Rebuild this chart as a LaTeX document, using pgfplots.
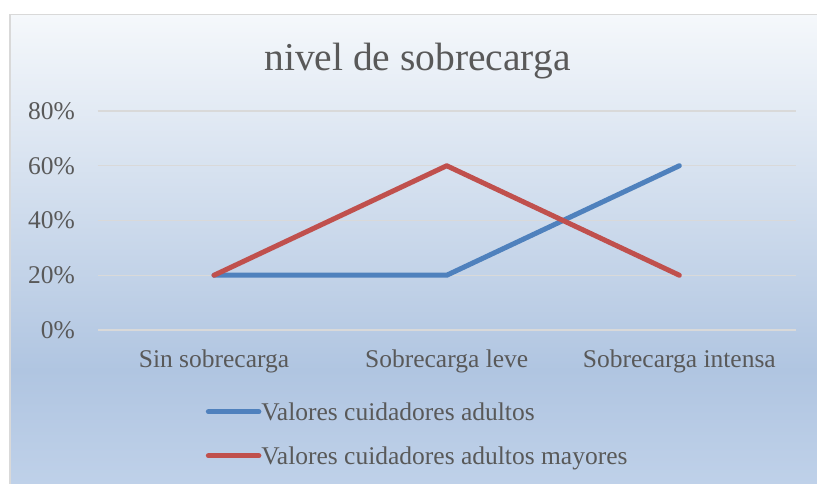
\documentclass[border=0pt]{standalone}
\usepackage{fontspec}
\setmainfont{Liberation Serif}
\usepackage{pgfplots}
\pgfplotsset{compat=1.18}
\definecolor{txt}{HTML}{595959}
\definecolor{gridc}{HTML}{D9D9D9}
\definecolor{serA}{HTML}{4F81BD}
\definecolor{serB}{HTML}{C0504D}
\definecolor{bgtop}{HTML}{F5F8FB}
\definecolor{bgmid}{HTML}{B0C5E1}
\definecolor{bgbot}{HTML}{BFD1E9}

\begin{document}
\begin{tikzpicture}[x=1pt,y=1pt]
\useasboundingbox (0,0) rectangle (817,484);
\fill[white] (0,0) rectangle (817,484);
% chart area with Excel-like gradient
\shade[top color=bgtop, bottom color=bgmid] (10,113.5) rectangle (817,469.5);
\shade[top color=bgmid, bottom color=bgbot] (10,0) rectangle (817,114);
\draw[gridc, line width=1.2pt] (10,0) -- (10,469.5) -- (817,469.5);
\node[txt, anchor=base, inner sep=0pt, font=\fontsize{39.5}{45}\selectfont] at (417.5,413) {nivel de sobrecarga};

\begin{axis}[
  at={(97.7pt,154pt)}, anchor=south west,
  width=698pt, height=219pt, scale only axis,
  xmin=-0.5, xmax=2.5, ymin=0, ymax=0.8,
  xtick={0,1,2},
  xticklabels={Sin sobrecarga, Sobrecarga leve, Sobrecarga intensa},
  ytick={0,0.2,0.4,0.6,0.8},
  yticklabels={0\%,20\%,40\%,60\%,80\%},
  ymajorgrids, grid style={gridc, line width=1.3pt},
  axis line style={draw=none}, major tick length=0pt,
  tick label style={text=txt, font=\fontsize{25.5}{30}\selectfont, inner sep=0pt},
  yticklabel style={anchor=east, xshift=-22.7pt},
  xticklabel style={anchor=base, yshift=-38pt},
  legend cell align=left,
  legend style={draw=none, fill=none, inner sep=0pt, outer sep=0pt,
    at={(0.155,-0.3288)}, anchor=north west,
    font=\fontsize{25.5}{30}\selectfont, text=txt, row sep=20pt,
    nodes={inner sep=0pt, text height=18pt, text depth=6pt},
    /tikz/every even column/.append style={column sep=6pt}},
  legend image code/.code={\draw[#1, line width=5pt, line cap=round] (0pt,2.3pt) -- (50.5pt,2.3pt);},
]
\addplot[serA, line width=5pt, line cap=round, line join=round]
  coordinates {(0,0.2) (1,0.2) (2,0.6)};
\addlegendentry{Valores cuidadores adultos}
\addplot[serB, line width=5pt, line cap=round, line join=round]
  coordinates {(0,0.2) (1,0.6) (2,0.2)};
\addlegendentry{Valores cuidadores adultos mayores}
\end{axis}
\end{tikzpicture}
\end{document}
